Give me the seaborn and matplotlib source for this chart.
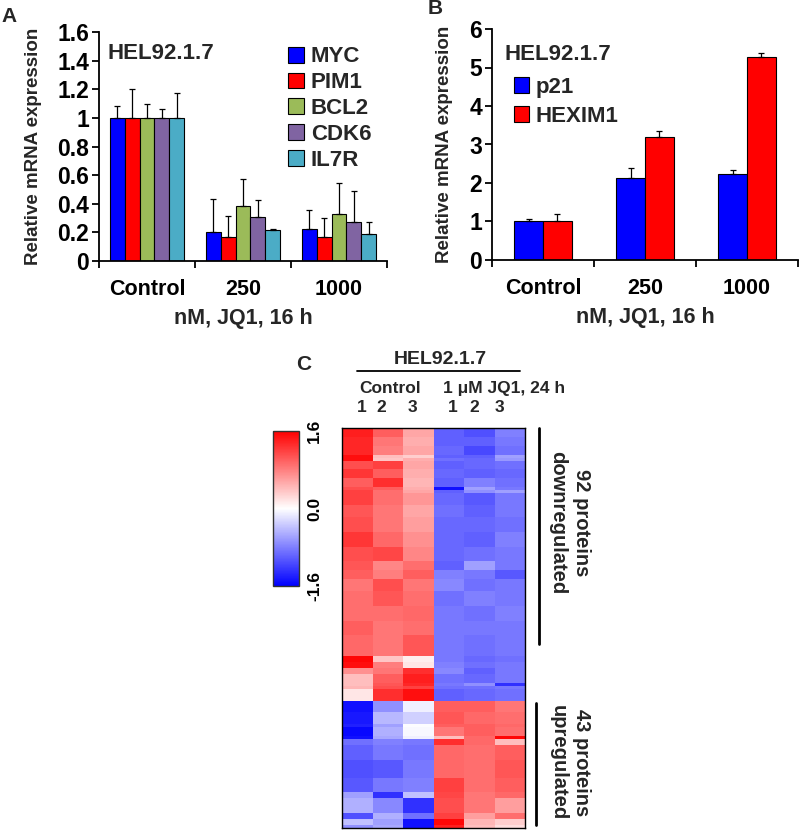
import numpy as np
import pandas as pd
import matplotlib
matplotlib.use("Agg")
import matplotlib.pyplot as plt
import seaborn as sns

# ---------------- data ----------------
doses = ["Control", "250", "1000"]

genes_a = ["MYC", "PIM1", "BCL2", "CDK6", "IL7R"]
vals_a = {
    "MYC":  [1.00, 0.20, 0.225],
    "PIM1": [1.00, 0.165, 0.165],
    "BCL2": [1.00, 0.385, 0.325],
    "CDK6": [1.00, 0.305, 0.275],
    "IL7R": [1.00, 0.215, 0.19],
}
err_a = {
    "MYC":  [0.08, 0.23, 0.13],
    "PIM1": [0.20, 0.15, 0.135],
    "BCL2": [0.095, 0.19, 0.22],
    "CDK6": [0.06, 0.12, 0.215],
    "IL7R": [0.175, 0.012, 0.085],
}
colors_a = ["#0000FF", "#FF0000", "#9BBB59", "#8064A2", "#4BACC6"]

genes_b = ["p21", "HEXIM1"]
vals_b = {
    "p21":    [1.02, 2.14, 2.23],
    "HEXIM1": [1.02, 3.20, 5.26],
}
err_b = {
    "p21":    [0.05, 0.24, 0.12],
    "HEXIM1": [0.18, 0.16, 0.12],
}
colors_b = ["#0000FF", "#FF0000"]

heat_cols = ["C1", "C2", "C3", "J1", "J2", "J3"]
# heatmap bands: number of protein rows per band and the band's 6 z-scores
band_rows = [3, 3, 3, 1, 1, 3, 3, 3, 1, 1, 4, 4, 5,
             5, 5, 3, 3, 4, 5, 5, 5,
             7, 2, 2, 2, 3, 1, 1, 4,
             4, 4, 1, 3, 1, 2, 5, 6, 5, 2, 5, 2, 2, 1]
band_values = [
    [1.40, 1.00, 0.55, -1.00, -1.10, -0.80],
    [1.35, 0.85, 0.50, -1.00, -1.00, -0.85],
    [1.35, 0.80, 0.55, -0.95, -1.15, -0.90],
    [1.50, 0.40, 0.30, -1.00, -1.00, -0.60],
    [1.50, 0.35, 0.50, -0.90, -0.95, -0.65],
    [1.10, 1.20, 0.55, -1.00, -0.95, -0.90],
    [1.25, 1.00, 0.50, -0.95, -1.00, -0.95],
    [1.00, 1.30, 0.45, -1.00, -0.80, -0.90],
    [1.10, 1.00, 0.50, -1.50, -0.60, -0.85],
    [1.20, 0.90, 0.55, -1.00, -0.70, -0.60],
    [1.20, 0.90, 0.65, -0.95, -1.05, -0.85],
    [1.05, 0.85, 0.55, -0.90, -1.00, -0.85],
    [1.10, 0.85, 0.60, -0.95, -0.95, -0.90],
    [1.25, 0.95, 0.70, -0.95, -1.00, -0.80],
    [1.10, 1.15, 0.75, -0.95, -0.90, -0.85],
    [1.05, 0.75, 0.90, -1.00, -0.60, -0.85],
    [1.00, 0.80, 1.00, -0.80, -0.85, -1.05],
    [0.85, 1.10, 0.85, -0.75, -0.90, -0.85],
    [0.90, 1.05, 0.90, -0.90, -0.80, -0.85],
    [0.90, 0.90, 0.95, -0.85, -0.90, -0.80],
    [1.00, 0.85, 0.90, -0.85, -0.85, -0.85],
    [0.95, 0.85, 1.05, -0.85, -0.90, -0.85],
    [1.55, 0.35, 0.10, -0.85, -0.95, -0.90],
    [1.50, 0.80, 0.15, -0.80, -0.90, -0.85],
    [0.70, 0.85, 1.30, -0.75, -1.00, -0.85],
    [0.40, 1.00, 1.40, -0.90, -0.95, -0.85],
    [0.40, 1.05, 1.35, -0.85, -0.70, -1.30],
    [0.45, 1.10, 1.20, -0.90, -0.90, -0.85],
    [0.15, 1.30, 1.50, -1.00, -0.95, -0.90],
    [-1.50, -0.70, -0.10, 1.00, 1.00, 0.85],
    [-1.45, -0.45, -0.30, 1.05, 0.95, 0.90],
    [-1.40, -0.60, -0.02, 1.00, 1.00, 0.95],
    [-1.55, -0.50, -0.05, 0.85, 1.00, 0.90],
    [-1.50, -0.55, -0.10, 0.40, 0.95, 1.55],
    [-0.90, -0.80, -0.85, 1.30, 0.95, 0.40],
    [-1.00, -0.85, -0.90, 0.95, 0.90, 1.00],
    [-1.10, -1.05, -0.85, 0.95, 0.90, 1.05],
    [-1.05, -0.85, -0.80, 1.20, 0.90, 1.00],
    [-0.60, -1.30, -0.40, 1.15, 0.85, 0.95],
    [-0.50, -0.75, -1.30, 1.10, 0.85, 0.60],
    [-1.10, -0.50, -0.90, 1.20, 0.60, 0.90],
    [-0.40, -0.60, -1.50, 1.55, 0.45, 0.30],
    [-0.70, -0.55, -1.50, 1.40, 0.40, 0.20],
]
n_down, n_up = 92, 43

# ---------------- style ----------------
sns.set_style("ticks")
plt.rcParams["font.family"] = ["Liberation Sans", "DejaVu Sans"]
plt.rcParams["font.weight"] = "bold"
plt.rcParams["axes.labelweight"] = "bold"
plt.rcParams["axes.linewidth"] = 1.3
plt.rcParams["axes.edgecolor"] = "black"
plt.rcParams["xtick.color"] = "black"
plt.rcParams["ytick.color"] = "black"

W, H = 800, 831
fig = plt.figure(figsize=(W / 100, H / 100), dpi=100)


def rect(x0, y0, x1, y1):
    return [x0 / W, 1 - y1 / H, (x1 - x0) / W, (y1 - y0) / H]


def bar_panel(ax, genes, vals, errs, colors, width, ymax, ystep, yfmt):
    df = pd.DataFrame([(d, g, vals[g][i]) for g in genes for i, d in enumerate(doses)],
                      columns=["dose", "gene", "value"])
    sns.barplot(data=df, x="dose", y="value", hue="gene", order=doses, hue_order=genes,
                palette=colors, width=width, gap=0, saturation=1, errorbar=None,
                edgecolor="black", linewidth=0.8, ax=ax)
    for cont, g in zip(ax.containers, genes):
        xs = [b.get_x() + b.get_width() / 2 for b in cont]
        ys = [b.get_height() for b in cont]
        ax.errorbar(xs, ys, yerr=[np.zeros(len(xs)), errs[g]], fmt="none",
                    ecolor="black", elinewidth=0.9, capsize=2.0, capthick=0.9, zorder=1)
    ax.set_xlim(-0.5, 2.5)
    ax.set_ylim(0, ymax)
    ticks = np.arange(0, ymax + 1e-9, ystep)
    ax.set_yticks(ticks)
    ax.set_yticklabels([yfmt(t) for t in ticks], fontsize=16.5, fontweight="bold")
    ax.set_xticks(range(3))
    ax.set_xticklabels(doses, fontsize=15.5, fontweight="bold")
    ax.set_xticks([-0.5, 0.5, 1.5, 2.5], minor=True)
    ax.tick_params(axis="x", which="major", length=0, pad=13)
    ax.tick_params(axis="x", which="minor", length=5, width=1.3, direction="out")
    ax.tick_params(axis="y", length=5, width=1.3, direction="out", pad=2)
    ax.set_ylabel("Relative mRNA expression", fontsize=13.5, fontweight="bold")
    ax.set_xlabel("nM, JQ1, 16 h", fontsize=15.5, fontweight="bold", labelpad=6)
    sns.despine(ax=ax)
    handles, labels = ax.get_legend_handles_labels()
    return handles, labels


def fmt_a(t):
    s = f"{t:.1f}"
    return s[:-2] if s.endswith(".0") else s


# ---- Panel A ----
axA = fig.add_axes(rect(99, 32, 387, 261))
h, l = bar_panel(axA, genes_a, vals_a, err_a, colors_a, 0.77, 1.6, 0.2, fmt_a)
axA.legend(h, l, loc="upper right", bbox_to_anchor=(1.0, 1.005), frameon=False,
           prop={"size": 16, "weight": "bold"}, handlelength=0.72, handleheight=0.72,
           handletextpad=0.3, labelspacing=0.22, borderpad=0.2)
axA.text(0.03, 0.905, "HEL92.1.7", transform=axA.transAxes, fontsize=16,
         fontweight="bold", va="center", ha="left")
axA.yaxis.set_label_coords(-0.198, 0.5)

# ---- Panel B ----
axB = fig.add_axes(rect(492, 29, 798, 260))
h, l = bar_panel(axB, genes_b, vals_b, err_b, colors_b, 0.565, 6, 1, lambda t: f"{int(t)}")
axB.legend(h, l, loc="upper left", bbox_to_anchor=(0.02, 0.86), frameon=False,
           prop={"size": 16, "weight": "bold"}, handlelength=0.7, handleheight=0.7,
           handletextpad=0.3, labelspacing=0.35, borderpad=0.2)
axB.text(0.04, 0.89, "HEL92.1.7", transform=axB.transAxes, fontsize=16,
         fontweight="bold", va="center", ha="left")
axB.yaxis.set_label_coords(-0.127, 0.5)

# ---- Panel C ----
data_rows = np.repeat(np.array(band_values), band_rows, axis=0)
heat_df = pd.DataFrame(data_rows, columns=heat_cols)
axC = fig.add_axes(rect(342, 428, 525, 828))
cax = fig.add_axes(rect(273, 431, 299, 586))
sns.heatmap(heat_df, cmap="bwr", vmin=-1.6, vmax=1.6, ax=axC, cbar_ax=cax,
            xticklabels=False, yticklabels=False)
for sp in axC.spines.values():
    sp.set_visible(True)
    sp.set_linewidth(1.0)
cax.set_yticks([-1.6, 0.0, 1.6])
cax.set_yticklabels(["-1.6", "0.0", "1.6"], rotation=90, va="center",
                    fontsize=12.5, fontweight="bold")
cax.tick_params(length=0, pad=6)
cbar = axC.collections[0].colorbar
cbar.outline.set_visible(True)
cbar.outline.set_edgecolor("#333333")
cbar.outline.set_linewidth(1.0)


def fx(x):
    return x / W


def fy(y):
    return 1 - y / H


fig.text(fx(440), fy(360), "HEL92.1.7", fontsize=14, fontweight="bold", ha="center", va="center")
fig.add_artist(plt.Line2D([fx(357), fx(520)], [fy(371), fy(371)], color="black", lw=1.3))
fig.text(fx(390), fy(388), "Control", fontsize=12.5, fontweight="bold", ha="center", va="center")
fig.text(fx(504), fy(388), "1 \u03bcM JQ1, 24 h", fontsize=12.5, fontweight="bold", ha="center", va="center")
for xc, lab in zip([362, 381, 412, 453, 474, 499], ["1", "2", "3", "1", "2", "3"]):
    fig.text(fx(xc), fy(407), lab, fontsize=12.5, fontweight="bold", ha="center", va="center")

fig.add_artist(plt.Line2D([fx(539), fx(539)], [fy(428), fy(644)], color="black", lw=2))
fig.add_artist(plt.Line2D([fx(536), fx(536)], [fy(703), fy(825)], color="black", lw=2))
fig.text(fx(581), fy(523), "92 proteins", fontsize=14.5, fontweight="bold", rotation=270,
         ha="center", va="center")
fig.text(fx(558), fy(523), "downregulated", fontsize=14.5, fontweight="bold", rotation=270,
         ha="center", va="center")
fig.text(fx(581), fy(763), "43 proteins", fontsize=14.5, fontweight="bold", rotation=270,
         ha="center", va="center")
fig.text(fx(558), fy(763), "upregulated", fontsize=14.5, fontweight="bold", rotation=270,
         ha="center", va="center")

# panel letters
fig.text(fx(9), fy(16), "A", fontsize=15, fontweight="bold", ha="center", va="center")
fig.text(fx(435), fy(9), "B", fontsize=15, fontweight="bold", ha="center", va="center")
fig.text(fx(304), fy(364), "C", fontsize=15, fontweight="bold", ha="center", va="center")

fig.savefig("out.png", dpi=100)
